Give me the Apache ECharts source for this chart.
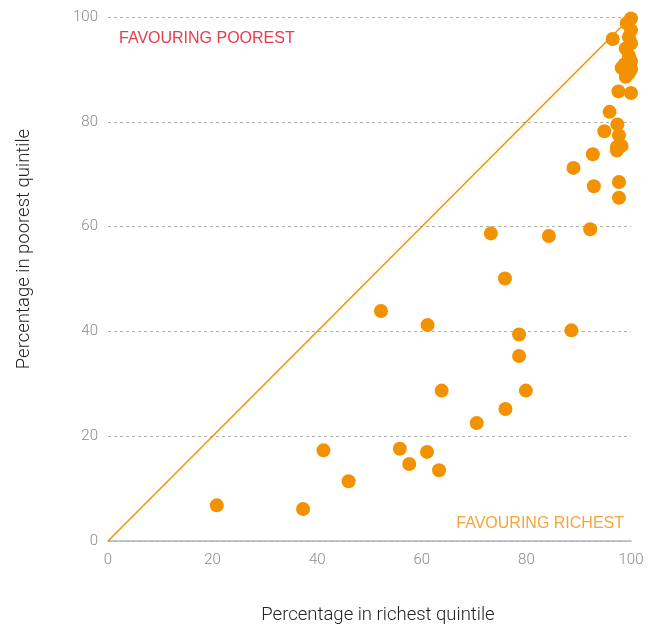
<!DOCTYPE html>
<html>
<head>
<meta charset="utf-8">
<script src="https://cdn.jsdelivr.net/npm/echarts@6/dist/echarts.min.js"></script>
<style>
  html, body { margin: 0; padding: 0; background: #fff; }
  #chart { width: 657px; height: 626px; }
</style>
</head>
<body>
<div id="chart"></div>
<script>
// percentage in richest quintile (x) vs poorest quintile (y)
var richest = [
    20.8, 37.3, 41.2, 46.0, 52.2, 55.8, 57.6, 61.1, 61.0, 63.3,
    63.8, 70.5, 73.2, 75.9, 76.0, 78.6, 78.6, 79.9, 84.3, 88.6,
    89.0, 92.2, 92.7, 92.9, 94.9, 95.9, 96.5, 97.4, 97.7, 97.3,
    98.2, 97.3, 97.7, 97.7, 97.6, 100.0,
    100.0, 99.2, 100.0, 99.6, 100.0, 99.0, 99.6, 98.8, 100.0, 98.2,
    99.6, 99.0, 100.0
];
var poorest = [
    6.8, 6.1, 17.3, 11.4, 43.9, 17.6, 14.7, 41.2, 17.0, 13.5,
    28.7, 22.5, 58.7, 50.1, 25.2, 39.4, 35.3, 28.7, 58.2, 40.2,
    71.2, 59.5, 73.8, 67.7, 78.2, 81.9, 95.8, 79.5, 77.4, 75.2,
    75.4, 74.5, 68.5, 65.5, 85.8, 85.5,
    99.7, 98.8, 97.5, 96.2, 95.0, 94.0, 92.6, 91.0, 91.5, 90.3,
    89.3, 88.6, 90.0
];
var parity = [[0, 0], [100, 100]];
var ticks = [0, 20, 40, 60, 80, 100];

var orange = '#f39200';
var points = richest.map(function (r, i) { return [r, poorest[i]]; });

var chart = echarts.init(document.getElementById('chart'));

var nameFont = { fill: '#222', fontSize: 18.5, fontFamily: 'Roboto', fontWeight: 300, align: 'center', verticalAlign: 'middle' };

chart.setOption({
    animation: false,
    backgroundColor: '#fff',
    grid: { left: 108, right: 26, top: 17, bottom: 85, outerBoundsMode: 'none' },
    xAxis: {
        type: 'value',
        min: ticks[0],
        max: ticks[ticks.length - 1],
        interval: 20,
        axisLine: { lineStyle: { color: '#b3b3b3', width: 1.5 } },
        axisTick: { show: false },
        splitLine: { show: false },
        axisLabel: { color: '#8a8a8a', fontSize: 15, fontFamily: 'Roboto', fontWeight: 300, margin: 12 }
    },
    yAxis: {
        type: 'value',
        min: ticks[0],
        max: ticks[ticks.length - 1],
        interval: 20,
        axisLine: { show: false },
        axisTick: { show: false },
        splitLine: { lineStyle: { color: '#b0b0b0', type: [3, 3], width: 1 } },
        axisLabel: { color: '#8a8a8a', fontSize: 15, fontFamily: 'Roboto', fontWeight: 300, margin: 10 }
    },
    graphic: [
        {
            type: 'text', x: 378, y: 615,
            style: Object.assign({ text: 'Percentage in richest quintile' }, nameFont)
        },
        {
            type: 'text', x: 24, y: 249, rotation: Math.PI / 2,
            style: Object.assign({ text: 'Percentage in poorest quintile' }, nameFont)
        },
        {
            type: 'text', left: 119, top: 31,
            style: { text: 'FAVOURING POOREST', fill: '#e63c4c', fontSize: 16, fontFamily: 'Liberation Sans' }
        },
        {
            type: 'text', right: 33, top: 516,
            style: { text: 'FAVOURING RICHEST', fill: '#f5a53a', fontSize: 16, fontFamily: 'Liberation Sans' }
        }
    ],
    series: [
        {
            type: 'line',
            data: parity,
            symbol: 'none',
            silent: true,
            lineStyle: { color: orange, width: 1.5 },
            z: 1
        },
        {
            type: 'scatter',
            data: points,
            symbolSize: 14,
            itemStyle: { color: orange, opacity: 1 },
            z: 2
        }
    ]
});
</script>
</body>
</html>
